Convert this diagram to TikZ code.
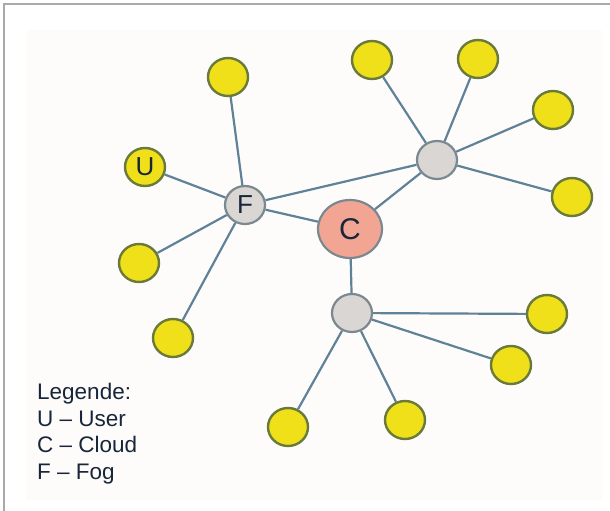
\documentclass[tikz,border=0pt]{standalone}
\usepackage{fontspec}
\setmainfont{Liberation Sans}
\usetikzlibrary{shapes.geometric}
\definecolor{leafyellow}{HTML}{EFE01A}
\definecolor{leafrim}{HTML}{6A7A3A}
\definecolor{hubgray}{HTML}{DAD6D3}
\definecolor{hubrim}{HTML}{7A8890}
\definecolor{cloudred}{HTML}{F2A593}
\definecolor{linkblue}{HTML}{5F8298}
\definecolor{framegray}{HTML}{AAAAAA}
\definecolor{inkblue}{HTML}{18263A}
\definecolor{paper}{HTML}{FEFCFA}
\begin{document}
\begin{tikzpicture}[x=1pt, y=-1pt,
  leaf/.style={draw=leafrim, fill=leafyellow, line width=2.4pt, ellipse, minimum width=40pt, minimum height=38pt, inner sep=0pt, text=inkblue},
  hub/.style={draw=hubrim, fill=hubgray, line width=2.2pt, ellipse, minimum width=40pt, minimum height=38pt, inner sep=0pt, text=inkblue},
  cloud/.style={draw=hubrim, fill=cloudred, line width=2.2pt, ellipse, minimum width=64pt, minimum height=58pt, inner sep=0pt, text=inkblue},
  link/.style={draw=linkblue, line width=2.2pt}]
\useasboundingbox (0,0) rectangle (610,511);
\fill[paper] (26,30) rectangle (602,500);
\draw[framegray, line width=1.8pt] (4,520) -- (4,4) -- (620,4);

% Nodes
\node[cloud, font=\fontsize{30}{30}\selectfont] (c) at (350,229) {C};
\node[hub, font=\fontsize{26}{26}\selectfont] (f) at (245,205) {F};
\node[hub] (hubne) at (437,160) {};
\node[hub] (hubs) at (352,313) {};
\node[leaf, font=\fontsize{26}{26}\selectfont] (u) at (145,167) {U};
\node[leaf] (y1) at (228,77) {};
\node[leaf] (y2) at (372,60) {};
\node[leaf] (y3) at (478,59) {};
\node[leaf] (y4) at (553,110) {};
\node[leaf] (y5) at (572,197) {};
\node[leaf] (y6) at (139,263) {};
\node[leaf] (y7) at (173,338) {};
\node[leaf] (y8) at (547,314) {};
\node[leaf] (y9) at (511,365) {};
\node[leaf] (y10) at (405,420) {};
\node[leaf] (y11) at (288,427) {};

% Links
\foreach \a/\b in {u/f, y1/f, y6/f, y7/f, f/c, f/hubne,
                   hubne/y2, hubne/y3, hubne/y4, hubne/y5, hubne/c,
                   c/hubs, hubs/y8, hubs/y9, hubs/y10, hubs/y11}
  \draw[link] (\a) -- (\b);

% Legend
\node[anchor=north west, align=left, inner sep=0pt, text=inkblue, font=\fontsize{22.5}{26.5}\selectfont] (legend) at (37,383)
  {Legende:\\U -- User\\C -- Cloud\\F -- Fog};
\end{tikzpicture}
\end{document}
